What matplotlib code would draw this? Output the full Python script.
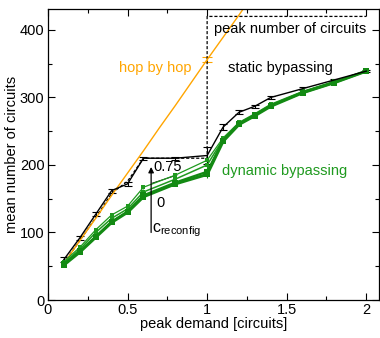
import matplotlib
matplotlib.use("Agg")
import matplotlib.pyplot as plt
from matplotlib.ticker import MultipleLocator

plt.rcParams['font.family'] = ['Liberation Sans', 'DejaVu Sans']
plt.rcParams['mathtext.fontset'] = 'custom'
plt.rcParams['mathtext.rm'] = 'Liberation Sans'

# ---- data ----
x_hop = [0.1, 0.2, 0.3, 0.4, 0.5, 0.6, 0.7, 0.8, 0.9, 1.0, 1.1, 1.2, 1.3]
y_hop = [54, 88, 121, 155, 188, 221, 255, 288, 322, 356, 389, 422, 456]
e_hop = [1, 1, 1, 1, 1, 1, 1, 1, 1, 4, 1, 1, 1]

x_static = [0.1, 0.2, 0.3, 0.4, 0.5, 0.6, 0.8, 1.0, 1.1, 1.2, 1.3, 1.4, 1.6, 1.8, 2.0]
y_static = [60, 92, 127, 162, 172, 210, 210, 214, 256, 278, 287, 300, 313, 326, 339]
e_static = [3, 3, 3, 3, 3, 2, 2, 12, 4, 3, 2, 2, 2, 2, 2]

x_peak = [0.1, 0.2, 0.3, 0.4, 0.5, 0.6, 1.0, 1.0, 2.0]
y_peak = [55, 88, 122, 158, 176, 210, 210, 420, 420]

x_dyn = [0.1, 0.2, 0.3, 0.4, 0.5, 0.6, 0.8, 1.0, 1.1, 1.2, 1.3, 1.4, 1.6, 1.8, 2.0]
y_dyn_0 = [52, 71, 93, 115, 130, 153, 172, 186, 235, 260, 273, 287, 307, 322, 339]
y_dyn_025 = [53, 72, 94, 116, 131, 155, 174, 190, 236, 261, 274, 288, 307, 322, 339]
y_dyn_05 = [55, 75, 100, 121, 135, 160, 179, 200, 238, 262, 275, 289, 308, 323, 339]
y_dyn_075 = [57, 78, 104, 126, 139, 167, 185, 207, 240, 263, 276, 290, 309, 324, 339]
e_dyn = [2, 2, 2, 2, 2, 2, 2, 6, 3, 2, 2, 2, 2, 2, 2]

ORANGE = '#ffa500'
GREEN = '#1f9a1f'
GREEN_DK = '#138a13'

fig = plt.figure(figsize=(3.8, 3.38), dpi=100)
ax = fig.add_axes([48/380, 1-300/338, (379-48)/380, (300-9)/338])

# hop by hop (error bar shown only at the 1.0 point)
ax.errorbar(x_hop, y_hop, yerr=e_hop, color=ORANGE, lw=1.0, capsize=3.5,
            elinewidth=0.8, capthick=0.8, errorevery=(9, 100))

# dynamic bypassing curves
for ys, lw, ms, col in [(y_dyn_075, 0.9, 3, GREEN), (y_dyn_05, 1.1, 3.5, GREEN),
                        (y_dyn_025, 1.6, 4, GREEN_DK), (y_dyn_0, 2.2, 4.5, GREEN_DK)]:
    ax.errorbar(x_dyn, ys, yerr=e_dyn, color=col, lw=lw, marker='s', ms=ms,
                capsize=3, elinewidth=0.8, capthick=0.8, mew=0)

# static bypassing
ax.errorbar(x_static, y_static, yerr=e_static, color='black', lw=1.0,
            capsize=3.2, elinewidth=0.8, capthick=0.8)

# peak number of circuits
ax.plot(x_peak, y_peak, color='black', lw=0.9, ls=(0, (2.5, 1.5)))

# annotations
fs = 10.5
ax.text(0.9, 343, 'hop by hop', color=ORANGE, fontsize=fs, ha='right', va='center')
ax.text(1.13, 343, 'static bypassing', color='black', fontsize=fs, ha='left', va='center')
ax.text(1.045, 401, 'peak number of circuits', color='black', fontsize=fs, ha='left', va='center')
ax.text(1.095, 191, 'dynamic bypassing', color=GREEN, fontsize=fs, ha='left', va='center')
ax.text(0.665, 197, '0.75', color='black', fontsize=fs, ha='left', va='center')
ax.text(0.68, 144, '0', color='black', fontsize=fs, ha='left', va='center')
ax.text(0.655, 104, r'c$_\mathregular{reconfig}$', color='black', fontsize=fs+1, ha='left', va='center')
ax.plot([0.655, 0.81], [173, 185], color='black', lw=0.7)
ax.annotate('', xy=(0.648, 197), xytext=(0.648, 100),
            arrowprops=dict(arrowstyle='-|>', color='black', lw=0.9,
                            mutation_scale=8, shrinkA=0, shrinkB=0))

ax.set_xlim(0, 2.08)
ax.set_ylim(0, 431)
ax.xaxis.set_major_locator(MultipleLocator(0.5))
ax.xaxis.set_minor_locator(MultipleLocator(0.25))
ax.yaxis.set_major_locator(MultipleLocator(100))
ax.yaxis.set_minor_locator(MultipleLocator(50))
ax.set_xticks([0, 0.5, 1, 1.5, 2])
ax.set_xticklabels(['0', '0.5', '1', '1.5', '2'])
ax.tick_params(which='both', direction='in', top=True, right=True, labelsize=fs, width=0.8, pad=2.5)
ax.tick_params(which='major', length=5)
ax.tick_params(which='minor', length=3)
for s in ax.spines.values():
    s.set_linewidth(0.9)
ax.set_xlabel('peak demand [circuits]', fontsize=fs, labelpad=0)
ax.set_ylabel('mean number of circuits', fontsize=fs, labelpad=1)

fig.savefig('out.png', dpi=100)
